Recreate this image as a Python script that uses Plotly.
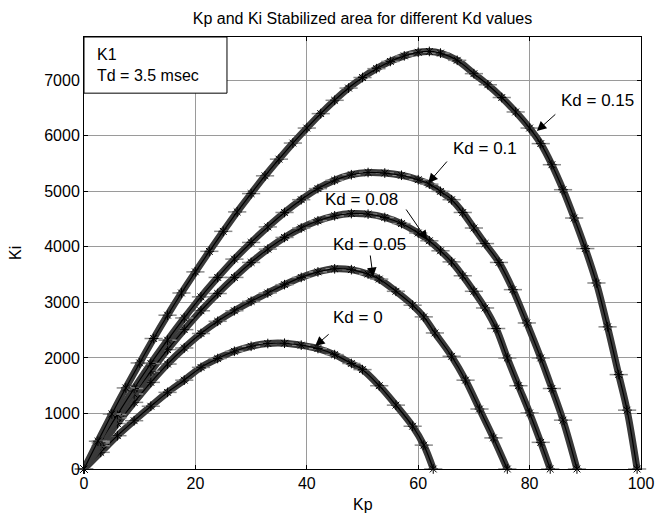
import plotly.graph_objects as go

# ---- data (Kp, Ki) ----
kp_0 = [0, 3, 6, 9, 12, 15, 18, 21, 24, 27, 30, 33, 36, 39, 42, 45, 48, 50, 53, 56, 59, 61, 62.7]
ki_0 = [0, 300, 600, 870, 1130, 1380, 1600, 1830, 1990, 2120, 2210, 2260, 2265, 2230, 2170, 2060, 1900, 1790, 1500, 1150, 770, 430, 0]

kp_005 = [0, 3, 6, 9, 12, 15, 18, 21, 24, 27, 30, 33, 36, 39, 42, 45, 48, 51, 53, 56, 59, 61, 63, 66, 68.5, 71, 73.5, 76]
ki_005 = [0, 420, 820, 1200, 1560, 1890, 2180, 2440, 2660, 2850, 3020, 3170, 3320, 3450, 3550, 3605, 3590, 3510, 3420, 3200, 2950, 2740, 2450, 2030, 1600, 1080, 560, 0]

kp_008 = [0, 3, 6, 9, 12, 15, 18, 21, 24, 27, 30, 33, 36, 39, 42, 45, 48, 51, 54, 57, 60, 62, 64, 66, 68, 70, 72, 74, 76, 78, 80, 82, 83.7]
ki_008 = [0, 470, 920, 1350, 1760, 2150, 2510, 2850, 3160, 3450, 3720, 3960, 4170, 4340, 4470, 4560, 4600, 4590, 4530, 4420, 4250, 4110, 3930, 3730, 3480, 3200, 2900, 2530, 2000, 1500, 1010, 480, 0]

kp_01 = [0, 3, 6, 9, 12, 15, 18, 21, 24, 27, 30, 33, 36, 39, 42, 45, 48, 51, 54, 57, 60, 62, 64, 66, 68, 70, 72, 74.5, 77, 79.5, 82, 84, 86, 88.5]
ki_01 = [0, 500, 980, 1450, 1900, 2320, 2720, 3100, 3450, 3780, 4080, 4360, 4620, 4850, 5050, 5200, 5300, 5340, 5330, 5290, 5210, 5130, 5000, 4850, 4620, 4340, 4060, 3720, 3230, 2630, 2000, 1450, 880, 0]

kp_015 = [0, 2.5, 5, 7.5, 10, 12.5, 15, 17.5, 20, 22.5, 25, 27.5, 30, 32.5, 35, 37.5, 40, 42.5, 45, 47.5, 50, 52.5,
          55, 57.5, 60, 62, 64, 67, 70, 72.5, 75, 77.5, 80, 82, 84, 86, 88, 90, 92, 94, 96, 97.5, 99.3]
ki_015 = [0, 500, 990, 1460, 1910, 2350, 2770, 3170, 3550, 3920, 4280, 4630, 4960, 5280, 5580, 5870, 6140, 6400, 6640, 6860, 7050, 7210,
          7340, 7440, 7505, 7520, 7490, 7360, 7120, 6920, 6690, 6430, 6140, 5860, 5480, 5030, 4520, 3970, 3350, 2560, 1700, 1060, 0]

series = [(kp_0, ki_0), (kp_005, ki_005), (kp_008, ki_008), (kp_01, ki_01), (kp_015, ki_015)]

# labels: (text, label Kp, label Ki, tip Kp, tip Ki, tail dx px, tail dy px)
label_text = ["Kd = 0", "Kd = 0.05", "Kd = 0.08", "Kd = 0.1", "Kd = 0.15"]
label_kp = [49.2, 51.2, 49.9, 72.0, 92.1]
label_ki = [2737, 4052, 4862, 5780, 6645]
tip_kp = [41.5, 51.9, 61.6, 61.8, 81.3]
tip_ki = [2215, 3458, 4124, 5150, 6087]
tail_dx = [15, -3, -22, 20, 20]
tail_dy = [-13, -23, -32, -23, -18]

title = "Kp and Ki Stabilized area for different Kd values"
FONT = "Liberation Sans, Arial, sans-serif"

fig = go.Figure()
for kp, ki in series:
    fig.add_trace(go.Scatter(x=kp, y=ki, mode="lines", line=dict(color="#3a3a3a", width=7, shape="spline"),
                             hoverinfo="skip", showlegend=False, cliponaxis=False))
    fig.add_trace(go.Scatter(x=kp, y=ki, mode="markers",
                             marker=dict(symbol="line-ew-open", size=13, color="#8a8a8a", line=dict(width=1.5, color="#8a8a8a")),
                             hoverinfo="skip", showlegend=False, cliponaxis=False))
    fig.add_trace(go.Scatter(x=kp, y=ki, mode="lines+markers", line=dict(color="black", width=1.2, shape="spline"),
                             marker=dict(symbol="asterisk-open", size=8, color="black", line=dict(width=1, color="black")),
                             showlegend=False, cliponaxis=False))

anns = []
for i in range(len(label_text)):
    anns.append(dict(x=tip_kp[i], y=tip_ki[i], xref="x", yref="y", text="", showarrow=True,
                     ax=tail_dx[i], ay=tail_dy[i], axref="pixel", ayref="pixel",
                     arrowhead=2, arrowsize=1.9, arrowwidth=1, arrowcolor="black", standoff=0))
    anns.append(dict(x=label_kp[i], y=label_ki[i], xref="x", yref="y", text=label_text[i], showarrow=False,
                     font=dict(size=17, color="black", family=FONT), xanchor="center", yanchor="middle"))

anns.append(dict(x=0.02, y=0.935, xref="paper", yref="paper", text="K1<br>Td = 3.5 msec", showarrow=False,
                 align="left", xanchor="left", yanchor="middle", font=dict(size=16, color="black", family=FONT)))
anns.append(dict(x=0.5, y=-0.0833, xref="paper", yref="paper", text="Kp", showarrow=False,
                 xanchor="center", yanchor="middle", font=dict(size=16, color="black", family=FONT)))
anns.append(dict(x=-0.124, y=0.5, xref="paper", yref="paper", text="Ki", showarrow=False, textangle=-90,
                 xanchor="center", yanchor="middle", font=dict(size=16, color="black", family=FONT)))

fig.update_layout(
    width=657, height=518,
    margin=dict(l=84, r=16, t=37, b=49, autoexpand=False),
    paper_bgcolor="white", plot_bgcolor="white",
    title=dict(text=title, x=0.5, xref="paper", y=1 - 18 / 518, yref="container", yanchor="middle",
               font=dict(size=16, color="black", family=FONT)),
    annotations=anns,
    shapes=[dict(type="rect", xref="paper", yref="paper", x0=0, x1=0.2567, y0=0.870, y1=1,
                 line=dict(color="black", width=1), fillcolor="white", layer="above")],
    font=dict(family=FONT, color="black"),
)
fig.update_xaxes(range=[0, 100], tickvals=[0, 20, 40, 60, 80, 100], showgrid=True, gridcolor="#9a9a9a", gridwidth=1,
                 zeroline=False, showline=True, linecolor="black", linewidth=1, mirror="allticks", automargin=False,
                 ticks="inside", ticklen=4, tickcolor="black", tickfont=dict(size=16, family=FONT, color="black"))
fig.update_yaxes(range=[0, 7780], tickvals=[0, 1000, 2000, 3000, 4000, 5000, 6000, 7000], showgrid=True,
                 gridcolor="#9a9a9a", gridwidth=1, zeroline=False, showline=True, linecolor="black", linewidth=1,
                 mirror="allticks", ticks="inside", ticklen=4, tickcolor="black", automargin=False,
                 tickfont=dict(size=16, family=FONT, color="black"))

fig.write_html("out.html")
